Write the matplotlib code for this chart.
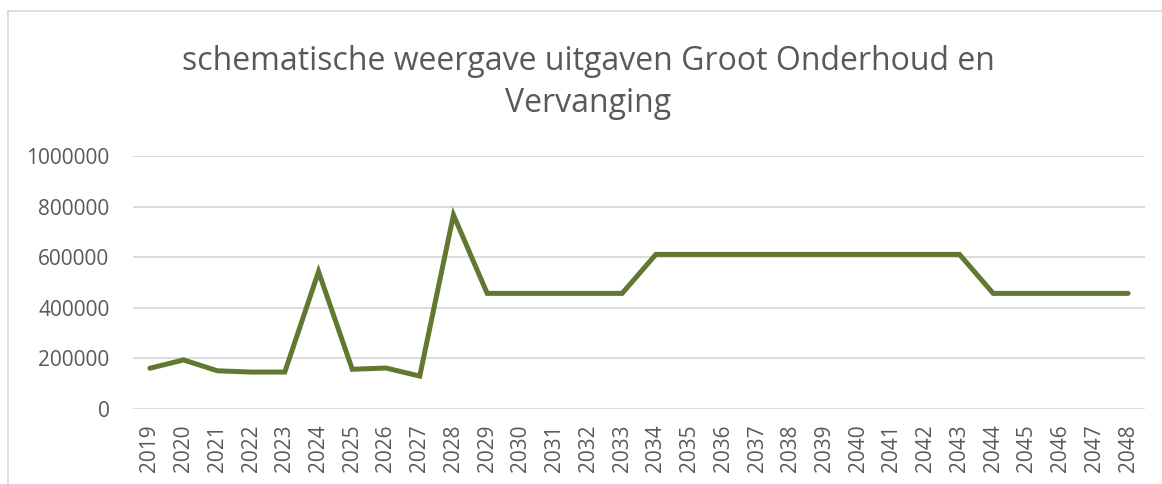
import matplotlib.pyplot as plt
from matplotlib.lines import Line2D
import numpy as np

plt.rcParams['font.family'] = ['Open Sans', 'DejaVu Sans']

years = [str(y) for y in range(2019, 2049)]
uitgaven = [161000, 194000, 151000, 146000, 146000, 543000, 157000, 162000, 130000, 767000,
            457000, 457000, 457000, 457000, 457000, 611000, 611000, 611000, 611000, 611000,
            611000, 611000, 611000, 611000, 611000, 457000, 457000, 457000, 457000, 457000]
yticks = [0, 200000, 400000, 600000, 800000, 1000000]

txt = '#595959'
fig = plt.figure(figsize=(11.62, 4.84), dpi=100)
ax = fig.add_axes([133 / 1162, 1 - 409 / 484, (1145 - 133) / 1162, (409 - 156) / 484])

x = np.arange(len(years))
ax.plot(x, uitgaven, color='#62772F', lw=3.6, solid_joinstyle='miter', solid_capstyle='round', zorder=3)

ax.set_xlim(-0.5, len(years) - 0.5)
ax.set_ylim(0, 1000000)
ax.set_yticks(yticks)
ax.set_yticklabels([str(v) for v in yticks])
ax.set_xticks(x)
ax.set_xticklabels(years, rotation=90)
ax.grid(axis='y', color='#D9D9D9', lw=1.3)
ax.set_axisbelow(True)
for s in ax.spines.values():
    s.set_visible(False)
ax.tick_params(axis='y', length=0, pad=17, labelsize=15, labelcolor=txt)
ax.tick_params(axis='x', length=0, pad=11, labelsize=15, labelcolor=txt)

fig.text(588 / 1162, 1 - 62 / 484, 'schematische weergave uitgaven Groot Onderhoud en',
         ha='center', va='center', fontsize=23, color=txt)
fig.text(588 / 1162, 1 - 103 / 484, 'Vervanging',
         ha='center', va='center', fontsize=23, color=txt)

# chart frame (cropped at right and bottom)
fig.add_artist(Line2D([8 / 1162, 8 / 1162], [0, 1 - 11 / 484], transform=fig.transFigure, color='#D9D9D9', lw=1.2))
fig.add_artist(Line2D([8 / 1162, 1], [1 - 11 / 484, 1 - 11 / 484], transform=fig.transFigure, color='#D9D9D9', lw=1.2))

fig.savefig('out.png', dpi=100)
